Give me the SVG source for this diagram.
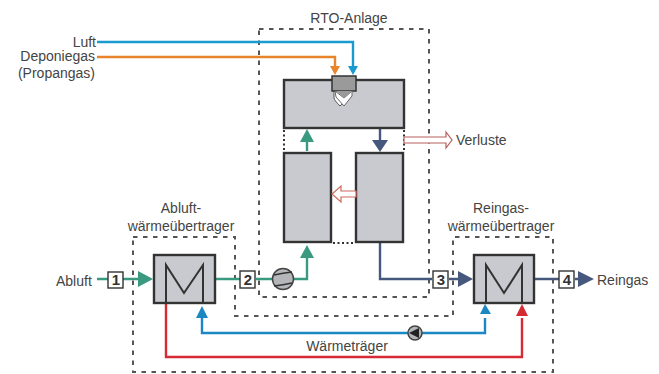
<svg xmlns="http://www.w3.org/2000/svg" width="659" height="374" viewBox="0 0 659 374">
<style>
text{font-family:"Liberation Sans",Arial,sans-serif;font-size:14px;fill:#444}
.box{fill:#c9cacf;stroke:#333;stroke-width:2.4}
.dash{fill:none;stroke:#555;stroke-width:2;stroke-dasharray:4.5 5.5}
.dot{fill:none;stroke:#333;stroke-width:2;stroke-dasharray:2 2.5}
.num{fill:#fff;stroke:#333;stroke-width:1.4}
.n{font-weight:bold;font-size:15px;fill:#333;text-anchor:middle}
.c{fill:none;stroke-width:2.4}
.m{fill:none;stroke:#333;stroke-width:2}
</style>
<g id="frames">
<path class="dash" d="M259 29H429V297H259Z"/>
<path class="dash" d="M133 237H235V316H453V237H553V372H133Z"/>
</g>
<g id="connectors">
<path class="c" stroke="#1b9ad0" d="M97 42H353V66"/>
<path class="c" stroke="#e8842a" d="M97 57H335V66"/>
<path class="c" stroke="#3a9a80" d="M97 279H108M123 279H138" />
<path class="c" stroke="#3a9a80" d="M216 279H240M256 279H272M293 279H307V258"/>
<path class="c" stroke="#3a9a80" d="M307 151V142"/>
<path class="c" stroke="#46587e" d="M380 129V140"/>
<path class="c" stroke="#46587e" d="M380 243V279H432M449 279H458"/>
<path class="c" stroke="#46587e" d="M535 279H559M575 279H578"/>
<path class="c" stroke="#1b88c4" d="M202 318V333H485V318"/>
<path class="c" stroke="#d62b35" d="M166 303V357H522V318"/>
<polygon fill="#e8842a" points="330,66 340,66 335,75"/>
<polygon fill="#1b9ad0" points="348,66 358,66 353,75"/>
<polygon fill="#3a9a80" points="138,271 153,279 138,287"/>
<polygon fill="#3a9a80" points="300,258 314,258 307,245"/>
<polygon fill="#3a9a80" points="300,142 314,142 307,129"/>
<polygon fill="#46587e" points="372,140 388,140 380,152"/>
<polygon fill="#46587e" points="458,271 473,279 458,287"/>
<polygon fill="#46587e" points="578,271 594,279 578,287"/>
<polygon fill="#1b88c4" points="196,318 208,318 202,306"/>
<polygon fill="#1b88c4" points="480,314 491,314 485,304"/>
<polygon fill="#d62b35" points="516,316 528,316 522,304"/>
</g>
<g id="rto">
<rect class="box" x="284" y="80" width="120" height="48"/>
<rect class="box" x="284" y="153" width="47" height="89"/>
<rect class="box" x="356" y="153" width="47" height="89"/>
<path class="dot" d="M284 130V152M404 130V152M333 243H355"/>
<path d="M334 91H346V98Q346 100 340 106Q334 100 334 98Z" fill="#fff" stroke="#555" stroke-width="1"/>
<rect x="332" y="76" width="24" height="15" fill="#9a9a9a" stroke="#333" stroke-width="1.5"/>
<path d="M335 91L344 98L352 91L352 96L344 106L336 97Z" fill="#fff" stroke="#666" stroke-width="1"/>
<path d="M336 91L344 98L352 91Z" fill="#9a9a9a"/>
</g>
<g id="ab">
<rect class="box" x="154" y="255" width="61" height="48"/>
<path class="m" d="M166 303V265L184 293L203 265V303"/>
</g>
<g id="re">
<rect class="box" x="474" y="255" width="60" height="48"/>
<path class="m" d="M486 303V265L504 293L522 265V303"/>
</g>
<g id="verluste-arrow">
<path d="M404 137H446V132L452 140L446 148V143H404Z" fill="#fff" stroke="#b5605e" stroke-width="1.2"/>
<path d="M356 191H341V186L332 194L341 202V197H356Z" fill="#fff" stroke="#cf6a5c" stroke-width="1.2"/>
</g>
<g id="n1"><rect class="num" x="108" y="272" width="15" height="16"/><text class="n" x="116" y="285">1</text></g>
<g id="n2"><rect class="num" x="240" y="271" width="15" height="17"/><text class="n" x="248" y="285">2</text></g>
<g id="n3"><rect class="num" x="433" y="271" width="15" height="17"/><text class="n" x="441" y="285">3</text></g>
<g id="n4"><rect class="num" x="559" y="271" width="15" height="17"/><text class="n" x="567" y="285">4</text></g>
<g id="fan"><circle cx="283" cy="279" r="10.500" fill="#b5b6ba" stroke="#444" stroke-width="1.500"/><path d="M274 275Q283 273 292 272M274 286Q283 285 292 283" fill="none" stroke="#333" stroke-width="1.500"/></g>
<g id="pump"><circle cx="415" cy="333" r="7" fill="#b5b6ba" stroke="#444" stroke-width="1.500"/><polygon points="409,333 419,328 419,338" fill="#222"/></g>
<g id="labels">
<text x="96" y="47" text-anchor="end">Luft</text>
<text x="95" y="61" text-anchor="end">Deponiegas</text>
<text x="95" y="78" text-anchor="end">(Propangas)</text>
<text x="349" y="23" text-anchor="middle">RTO-Anlage</text>
<text x="456" y="145">Verluste</text>
<text x="181" y="213" text-anchor="middle">Abluft-</text>
<text x="181" y="231" text-anchor="middle">wärmeübertrager</text>
<text x="501" y="213" text-anchor="middle">Reingas-</text>
<text x="501" y="231" text-anchor="middle">wärmeübertrager</text>
<text x="56" y="286">Abluft</text>
<text x="597" y="285">Reingas</text>
<text x="347" y="351" text-anchor="middle">Wärmeträger</text>
</g>
</svg>
